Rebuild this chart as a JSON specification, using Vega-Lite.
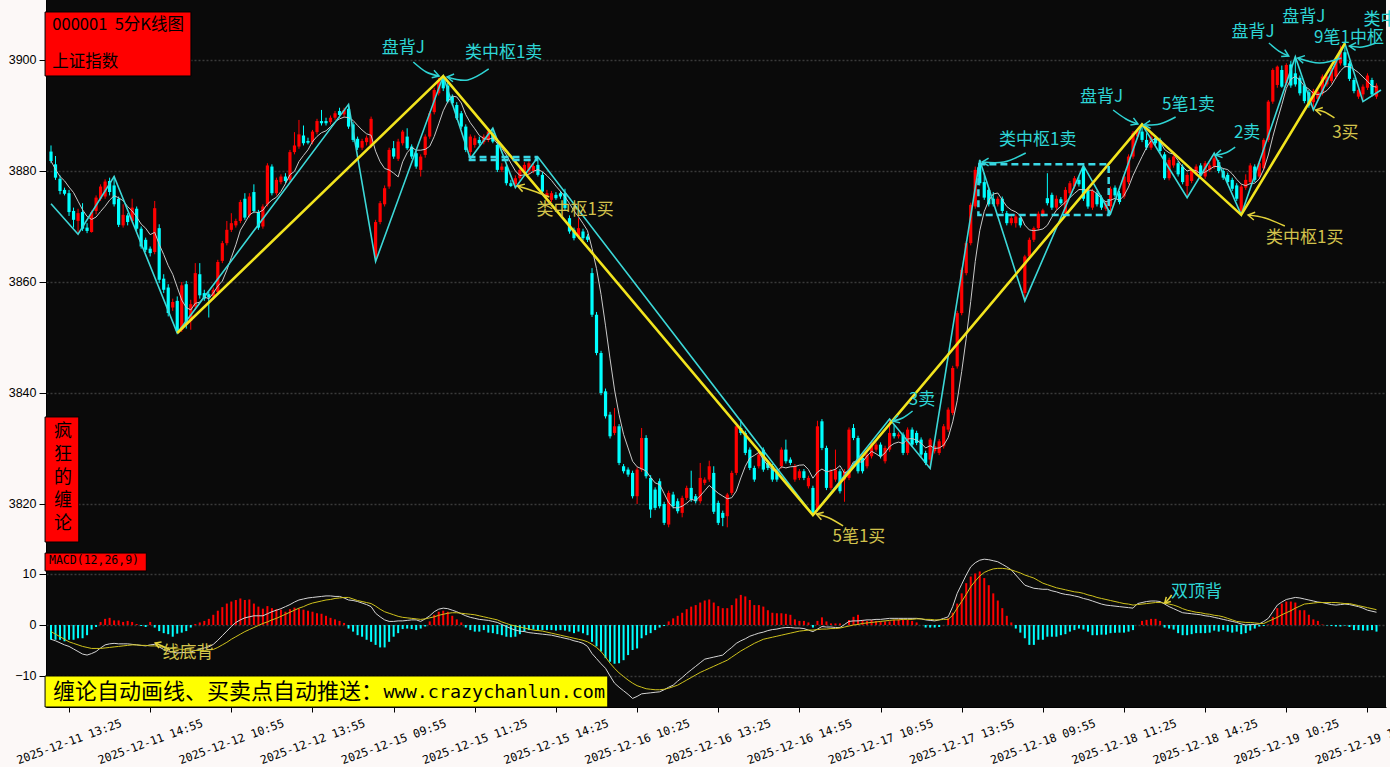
{
"$schema":"https://vega.github.io/schema/vega-lite/v6.json",
"background":"#fcf8f7",
"padding":0,
"spacing":0,
"config":{"view":{"fill":"#0a0a0a","stroke":null},"numberFormat":"d","axis":{"labelColor":"#000","tickColor":"#000","domainColor":"#000","labelFont":"Liberation Sans","labelFontSize":12.5,"grid":false},
"axisY":{"grid":true,"gridColor":"#3a3a3a","gridDash":[2,2],"gridWidth":1.5,"tickSize":7,"labelPadding":3,"minExtent":46,"maxExtent":46},
"font":"Noto Sans CJK SC"},
"datasets":{
"k":[
{"i":0,"o":3883.5,"h":3884.6,"l":3881.4,"c":3881.8,"m":-2.9,"f":-2.8,"e":-1.3},
{"i":1,"o":3881.2,"h":3882.7,"l":3878.4,"c":3878.8,"m":-2.9,"f":-3.1,"e":-1.8},
{"i":2,"o":3878.6,"h":3879.2,"l":3875.8,"c":3876.4,"m":-2.9,"f":-3.5,"e":-2.3},
{"i":3,"o":3876.6,"h":3877.0,"l":3875.6,"c":3875.9,"m":-3.2,"f":-3.9,"e":-2.8},
{"i":4,"o":3876.0,"h":3876.6,"l":3871.9,"c":3872.6,"m":-2.9,"f":-4.2,"e":-3.3},
{"i":5,"o":3872.8,"h":3873.4,"l":3869.8,"c":3871.2,"m":-2.9,"f":-4.7,"e":-3.6},
{"i":6,"o":3871.0,"h":3873.2,"l":3868.6,"c":3872.4,"m":-2.6,"f":-5.2,"e":-3.9},
{"i":7,"o":3872.6,"h":3874.2,"l":3869.2,"c":3869.6,"m":-2.6,"f":-5.7,"e":-4.2},
{"i":8,"o":3869.8,"h":3870.6,"l":3868.8,"c":3869.2,"m":-2.0,"f":-5.9,"e":-4.4},
{"i":9,"o":3869.0,"h":3872.9,"l":3868.9,"c":3872.6,"m":-0.9,"f":-5.6,"e":-4.6},
{"i":10,"o":3872.8,"h":3875.6,"l":3872.2,"c":3875.2,"m":-0.4,"f":-5.2,"e":-4.6},
{"i":11,"o":3875.0,"h":3877.6,"l":3874.6,"c":3877.2,"m":0.6,"f":-4.5,"e":-4.6},
{"i":12,"o":3875.4,"h":3878.5,"l":3875.0,"c":3878.1,"m":1.2,"f":-3.9,"e":-4.5},
{"i":13,"o":3878.2,"h":3878.8,"l":3875.6,"c":3876.2,"m":1.4,"f":-3.7,"e":-4.4},
{"i":14,"o":3877.4,"h":3879.0,"l":3873.6,"c":3874.0,"m":0.9,"f":-3.6,"e":-4.3},
{"i":15,"o":3875.0,"h":3875.4,"l":3869.9,"c":3870.3,"m":0.9,"f":-3.7,"e":-4.2},
{"i":16,"o":3870.2,"h":3874.0,"l":3869.8,"c":3872.1,"m":0.6,"f":-3.7,"e":-4.1},
{"i":17,"o":3872.0,"h":3872.4,"l":3870.2,"c":3870.8,"m":0.8,"f":-3.7,"e":-4.0},
{"i":18,"o":3871.0,"h":3875.0,"l":3870.6,"c":3873.4,"m":0.6,"f":-3.8,"e":-3.9},
{"i":19,"o":3873.2,"h":3873.6,"l":3869.2,"c":3869.6,"m":0.2,"f":-3.9,"e":-3.9},
{"i":20,"o":3869.6,"h":3870.0,"l":3866.0,"c":3866.4,"m":-0.2,"f":-4.0,"e":-4.0},
{"i":21,"o":3867.6,"h":3868.0,"l":3865.4,"c":3865.8,"m":-0.4,"f":-4.1,"e":-4.0},
{"i":22,"o":3866.0,"h":3866.4,"l":3864.6,"c":3865.2,"m":0.6,"f":-3.9,"e":-4.1},
{"i":23,"o":3865.4,"h":3874.6,"l":3865.0,"c":3873.3,"m":-0.5,"f":-3.8,"e":-4.1},
{"i":24,"o":3869.7,"h":3870.4,"l":3859.8,"c":3860.4,"m":-1.2,"f":-4.3,"e":-4.2},
{"i":25,"o":3860.6,"h":3861.4,"l":3858.0,"c":3858.6,"m":-1.6,"f":-4.8,"e":-4.4},
{"i":26,"o":3859.0,"h":3859.6,"l":3853.8,"c":3854.4,"m":-1.8,"f":-5.1,"e":-4.5},
{"i":27,"o":3855.4,"h":3857.0,"l":3854.8,"c":3856.4,"m":-2.3,"f":-5.3,"e":-4.6},
{"i":28,"o":3856.6,"h":3857.4,"l":3850.8,"c":3851.2,"m":-1.7,"f":-5.5,"e":-4.7},
{"i":29,"o":3851.4,"h":3860.0,"l":3851.0,"c":3859.4,"m":-1.5,"f":-5.4,"e":-4.8},
{"i":30,"o":3859.6,"h":3860.2,"l":3851.6,"c":3852.4,"m":-1.2,"f":-5.4,"e":-4.9},
{"i":31,"o":3853.0,"h":3856.8,"l":3851.4,"c":3856.0,"m":-0.5,"f":-5.3,"e":-4.9},
{"i":32,"o":3855.6,"h":3863.4,"l":3855.0,"c":3861.6,"m":0.2,"f":-5.0,"e":-5.0},
{"i":33,"o":3861.4,"h":3863.4,"l":3857.0,"c":3857.6,"m":0.5,"f":-4.8,"e":-5.0},
{"i":34,"o":3858.0,"h":3858.6,"l":3856.6,"c":3857.0,"m":0.8,"f":-4.5,"e":-5.0},
{"i":35,"o":3857.8,"h":3858.2,"l":3853.6,"c":3857.2,"m":1.2,"f":-4.3,"e":-4.9},
{"i":36,"o":3857.4,"h":3859.0,"l":3856.8,"c":3858.6,"m":2.0,"f":-3.8,"e":-4.8},
{"i":37,"o":3858.2,"h":3864.0,"l":3857.8,"c":3863.6,"m":2.8,"f":-3.0,"e":-4.4},
{"i":38,"o":3863.8,"h":3867.4,"l":3863.4,"c":3867.0,"m":3.5,"f":-2.1,"e":-3.9},
{"i":39,"o":3867.0,"h":3871.0,"l":3866.6,"c":3869.4,"m":4.2,"f":-1.2,"e":-3.4},
{"i":40,"o":3869.4,"h":3872.4,"l":3869.0,"c":3870.6,"m":4.6,"f":-0.3,"e":-2.8},
{"i":41,"o":3870.2,"h":3871.4,"l":3869.8,"c":3871.0,"m":4.9,"f":0.5,"e":-2.3},
{"i":42,"o":3871.0,"h":3874.8,"l":3870.6,"c":3874.4,"m":5.2,"f":1.0,"e":-1.8},
{"i":43,"o":3875.0,"h":3876.0,"l":3871.2,"c":3871.6,"m":4.9,"f":1.4,"e":-1.3},
{"i":44,"o":3872.0,"h":3876.0,"l":3871.6,"c":3875.4,"m":5.0,"f":1.6,"e":-0.9},
{"i":45,"o":3876.2,"h":3877.6,"l":3872.4,"c":3872.8,"m":4.2,"f":1.8,"e":-0.5},
{"i":46,"o":3872.6,"h":3873.0,"l":3869.4,"c":3869.8,"m":3.6,"f":1.8,"e":-0.1},
{"i":47,"o":3870.0,"h":3874.0,"l":3869.6,"c":3873.6,"m":3.2,"f":1.8,"e":0.3},
{"i":48,"o":3874.0,"h":3881.4,"l":3873.6,"c":3881.0,"m":3.7,"f":2.2,"e":0.6},
{"i":49,"o":3880.8,"h":3881.2,"l":3875.6,"c":3876.0,"m":3.3,"f":2.6,"e":1.0},
{"i":50,"o":3876.0,"h":3878.8,"l":3875.6,"c":3878.4,"m":3.1,"f":2.9,"e":1.3},
{"i":51,"o":3878.0,"h":3879.4,"l":3877.6,"c":3879.0,"m":3.0,"f":3.2,"e":1.7},
{"i":52,"o":3879.0,"h":3879.6,"l":3877.8,"c":3878.2,"m":2.6,"f":3.6,"e":2.1},
{"i":53,"o":3878.4,"h":3883.8,"l":3878.0,"c":3883.4,"m":3.1,"f":4.0,"e":2.5},
{"i":54,"o":3883.4,"h":3887.0,"l":3883.0,"c":3884.6,"m":3.4,"f":4.5,"e":2.9},
{"i":55,"o":3884.4,"h":3889.2,"l":3884.0,"c":3886.6,"m":3.2,"f":4.9,"e":3.3},
{"i":56,"o":3886.4,"h":3888.2,"l":3884.6,"c":3885.0,"m":3.0,"f":5.1,"e":3.6},
{"i":57,"o":3885.4,"h":3886.0,"l":3884.8,"c":3885.1,"m":2.8,"f":5.3,"e":4.0},
{"i":58,"o":3885.2,"h":3887.4,"l":3884.8,"c":3887.1,"m":2.6,"f":5.4,"e":4.3},
{"i":59,"o":3887.0,"h":3889.4,"l":3886.6,"c":3889.0,"m":2.3,"f":5.5,"e":4.5},
{"i":60,"o":3889.0,"h":3891.0,"l":3888.2,"c":3888.6,"m":2.2,"f":5.6,"e":4.7},
{"i":61,"o":3889.0,"h":3889.6,"l":3888.2,"c":3888.6,"m":1.8,"f":5.7,"e":4.9},
{"i":62,"o":3888.8,"h":3890.0,"l":3888.4,"c":3889.6,"m":1.4,"f":5.7,"e":5.0},
{"i":63,"o":3889.6,"h":3890.8,"l":3889.2,"c":3890.4,"m":1.1,"f":5.6,"e":5.2},
{"i":64,"o":3890.8,"h":3891.4,"l":3889.6,"c":3890.1,"m":0.8,"f":5.6,"e":5.3},
{"i":65,"o":3890.2,"h":3891.4,"l":3889.8,"c":3891.0,"m":0.4,"f":5.3,"e":5.4},
{"i":66,"o":3891.2,"h":3892.0,"l":3887.6,"c":3888.0,"m":-0.7,"f":4.9,"e":5.4},
{"i":67,"o":3888.4,"h":3888.8,"l":3885.2,"c":3885.6,"m":-1.3,"f":4.8,"e":5.1},
{"i":68,"o":3885.8,"h":3886.2,"l":3883.8,"c":3884.2,"m":-2.0,"f":4.6,"e":4.8},
{"i":69,"o":3884.2,"h":3885.8,"l":3883.8,"c":3885.4,"m":-2.3,"f":4.3,"e":4.6},
{"i":70,"o":3885.2,"h":3886.4,"l":3884.6,"c":3886.0,"m":-2.9,"f":4.0,"e":4.4},
{"i":71,"o":3884.6,"h":3889.8,"l":3884.2,"c":3889.4,"m":-3.3,"f":3.6,"e":4.2},
{"i":72,"o":3864.4,"h":3871.2,"l":3863.7,"c":3870.8,"m":-3.9,"f":2.3,"e":3.7},
{"i":73,"o":3870.8,"h":3874.6,"l":3870.4,"c":3874.2,"m":-4.4,"f":1.6,"e":3.1},
{"i":74,"o":3874.0,"h":3877.4,"l":3873.6,"c":3876.9,"m":-4.4,"f":1.0,"e":2.6},
{"i":75,"o":3877.2,"h":3884.2,"l":3876.8,"c":3883.8,"m":-3.3,"f":0.7,"e":2.3},
{"i":76,"o":3884.1,"h":3885.4,"l":3882.2,"c":3882.6,"m":-2.3,"f":0.7,"e":2.0},
{"i":77,"o":3882.2,"h":3885.8,"l":3881.8,"c":3885.3,"m":-1.6,"f":0.8,"e":1.7},
{"i":78,"o":3885.0,"h":3887.4,"l":3884.6,"c":3887.1,"m":-0.8,"f":0.8,"e":1.5},
{"i":79,"o":3886.2,"h":3887.7,"l":3883.8,"c":3884.1,"m":-0.7,"f":0.9,"e":1.4},
{"i":80,"o":3884.4,"h":3884.8,"l":3882.2,"c":3882.6,"m":-0.8,"f":1.0,"e":1.3},
{"i":81,"o":3883.2,"h":3883.6,"l":3880.4,"c":3880.8,"m":-1.0,"f":1.0,"e":1.2},
{"i":82,"o":3880.2,"h":3883.0,"l":3879.0,"c":3882.6,"m":-0.7,"f":0.7,"e":1.1},
{"i":83,"o":3882.9,"h":3886.6,"l":3882.4,"c":3886.2,"m":-0.3,"f":1.2,"e":1.2},
{"i":84,"o":3886.2,"h":3890.8,"l":3885.8,"c":3890.4,"m":0.7,"f":1.8,"e":1.4},
{"i":85,"o":3890.6,"h":3895.0,"l":3890.2,"c":3894.6,"m":2.0,"f":2.6,"e":1.6},
{"i":86,"o":3894.0,"h":3896.8,"l":3893.6,"c":3896.4,"m":2.6,"f":3.1,"e":1.9},
{"i":87,"o":3896.6,"h":3897.1,"l":3894.4,"c":3894.9,"m":2.8,"f":3.3,"e":2.1},
{"i":88,"o":3895.4,"h":3896.0,"l":3892.2,"c":3892.5,"m":2.6,"f":3.2,"e":2.3},
{"i":89,"o":3893.4,"h":3893.8,"l":3891.8,"c":3892.2,"m":1.8,"f":2.9,"e":2.4},
{"i":90,"o":3891.9,"h":3892.4,"l":3889.2,"c":3889.5,"m":1.1,"f":2.6,"e":2.4},
{"i":91,"o":3890.4,"h":3890.8,"l":3887.6,"c":3888.0,"m":0.5,"f":2.2,"e":2.3},
{"i":92,"o":3888.0,"h":3888.4,"l":3883.4,"c":3883.8,"m":-0.5,"f":1.8,"e":2.2},
{"i":93,"o":3883.4,"h":3886.6,"l":3882.2,"c":3886.2,"m":-1.0,"f":1.5,"e":2.1},
{"i":94,"o":3884.7,"h":3886.4,"l":3884.2,"c":3885.9,"m":-1.3,"f":1.3,"e":2.0},
{"i":95,"o":3885.6,"h":3886.2,"l":3884.6,"c":3885.0,"m":-1.3,"f":1.1,"e":1.8},
{"i":96,"o":3885.2,"h":3886.6,"l":3884.8,"c":3886.2,"m":-1.0,"f":1.0,"e":1.6},
{"i":97,"o":3885.6,"h":3887.5,"l":3885.2,"c":3887.1,"m":-1.5,"f":0.9,"e":1.4},
{"i":98,"o":3886.8,"h":3887.7,"l":3885.0,"c":3885.3,"m":-1.6,"f":0.7,"e":1.2},
{"i":99,"o":3884.7,"h":3885.2,"l":3879.8,"c":3880.2,"m":-1.8,"f":0.5,"e":1.0},
{"i":100,"o":3880.2,"h":3881.4,"l":3879.8,"c":3880.8,"m":-2.0,"f":0.1,"e":0.6},
{"i":101,"o":3880.8,"h":3881.2,"l":3877.4,"c":3877.8,"m":-2.3,"f":-0.3,"e":0.3},
{"i":102,"o":3877.8,"h":3878.4,"l":3877.1,"c":3877.3,"m":-2.4,"f":-0.7,"e":0.0},
{"i":103,"o":3877.6,"h":3879.2,"l":3877.0,"c":3878.7,"m":-2.3,"f":-1.0,"e":-0.2},
{"i":104,"o":3878.7,"h":3880.6,"l":3878.2,"c":3880.2,"m":-1.8,"f":-1.2,"e":-0.4},
{"i":105,"o":3879.6,"h":3881.6,"l":3879.2,"c":3881.1,"m":-1.3,"f":-1.3,"e":-0.6},
{"i":106,"o":3879.9,"h":3881.8,"l":3879.4,"c":3881.4,"m":-1.0,"f":-1.5,"e":-0.8},
{"i":107,"o":3880.0,"h":3881.4,"l":3879.6,"c":3880.9,"m":-0.9,"f":-1.6,"e":-1.0},
{"i":108,"o":3881.1,"h":3882.5,"l":3879.0,"c":3879.3,"m":-1.0,"f":-1.7,"e":-1.1},
{"i":109,"o":3879.3,"h":3879.8,"l":3875.9,"c":3876.3,"m":-1.0,"f":-1.8,"e":-1.2},
{"i":110,"o":3875.4,"h":3876.6,"l":3875.0,"c":3876.0,"m":-1.0,"f":-1.9,"e":-1.4},
{"i":111,"o":3874.8,"h":3876.4,"l":3874.4,"c":3876.0,"m":-1.0,"f":-2.0,"e":-1.6},
{"i":112,"o":3875.7,"h":3876.2,"l":3874.8,"c":3875.1,"m":-1.1,"f":-2.2,"e":-1.8},
{"i":113,"o":3876.0,"h":3876.4,"l":3875.0,"c":3875.4,"m":-1.0,"f":-2.4,"e":-2.0},
{"i":114,"o":3876.0,"h":3876.8,"l":3872.9,"c":3873.3,"m":-1.1,"f":-2.6,"e":-2.2},
{"i":115,"o":3871.5,"h":3872.0,"l":3868.7,"c":3869.1,"m":-1.3,"f":-2.8,"e":-2.4},
{"i":116,"o":3869.4,"h":3869.8,"l":3867.5,"c":3867.9,"m":-1.6,"f":-3.1,"e":-2.6},
{"i":117,"o":3868.2,"h":3871.5,"l":3867.8,"c":3869.7,"m":-1.3,"f":-3.3,"e":-2.8},
{"i":118,"o":3869.1,"h":3869.6,"l":3867.5,"c":3867.9,"m":-1.6,"f":-3.6,"e":-3.0},
{"i":119,"o":3868.2,"h":3868.6,"l":3867.2,"c":3867.6,"m":-2.0,"f":-4.2,"e":-3.3},
{"i":120,"o":3861.6,"h":3862.5,"l":3853.7,"c":3854.1,"m":-3.3,"f":-5.6,"e":-3.8},
{"i":121,"o":3854.1,"h":3854.6,"l":3846.8,"c":3847.2,"m":-4.2,"f":-6.6,"e":-4.4},
{"i":122,"o":3847.2,"h":3847.6,"l":3839.6,"c":3840.0,"m":-5.2,"f":-7.6,"e":-5.2},
{"i":123,"o":3840.3,"h":3840.8,"l":3835.4,"c":3835.8,"m":-6.5,"f":-8.5,"e":-6.3},
{"i":124,"o":3836.1,"h":3836.6,"l":3831.8,"c":3832.2,"m":-7.2,"f":-10.0,"e":-7.5},
{"i":125,"o":3832.8,"h":3837.3,"l":3832.4,"c":3834.0,"m":-7.6,"f":-11.4,"e":-8.5},
{"i":126,"o":3834.0,"h":3834.4,"l":3827.0,"c":3827.4,"m":-7.5,"f":-12.2,"e":-9.4},
{"i":127,"o":3826.8,"h":3827.2,"l":3825.5,"c":3825.9,"m":-6.9,"f":-12.9,"e":-10.1},
{"i":128,"o":3826.2,"h":3826.6,"l":3824.9,"c":3825.3,"m":-5.9,"f":-13.6,"e":-10.8},
{"i":129,"o":3825.6,"h":3826.0,"l":3821.0,"c":3821.4,"m":-4.9,"f":-14.4,"e":-11.4},
{"i":130,"o":3821.4,"h":3826.6,"l":3820.0,"c":3826.2,"m":-4.6,"f":-14.0,"e":-11.9},
{"i":131,"o":3826.2,"h":3833.7,"l":3825.8,"c":3831.9,"m":-2.6,"f":-13.5,"e":-12.2},
{"i":132,"o":3831.9,"h":3832.4,"l":3824.6,"c":3825.0,"m":-2.0,"f":-13.4,"e":-12.5},
{"i":133,"o":3824.7,"h":3825.2,"l":3817.5,"c":3819.0,"m":-1.6,"f":-13.3,"e":-12.6},
{"i":134,"o":3822.6,"h":3823.0,"l":3818.9,"c":3819.3,"m":-1.0,"f":-13.2,"e":-12.7},
{"i":135,"o":3824.1,"h":3824.6,"l":3819.2,"c":3819.6,"m":-0.5,"f":-13.1,"e":-12.7},
{"i":136,"o":3820.0,"h":3820.4,"l":3816.2,"c":3816.6,"m":-0.2,"f":-12.7,"e":-12.6},
{"i":137,"o":3816.3,"h":3822.4,"l":3815.8,"c":3822.0,"m":0.7,"f":-12.2,"e":-12.4},
{"i":138,"o":3821.7,"h":3822.2,"l":3819.2,"c":3819.6,"m":1.3,"f":-11.8,"e":-12.1},
{"i":139,"o":3820.5,"h":3821.0,"l":3818.3,"c":3818.7,"m":1.8,"f":-11.0,"e":-11.8},
{"i":140,"o":3818.4,"h":3821.5,"l":3817.6,"c":3821.1,"m":2.4,"f":-10.3,"e":-11.3},
{"i":141,"o":3821.1,"h":3823.3,"l":3820.7,"c":3822.9,"m":3.1,"f":-9.5,"e":-10.8},
{"i":142,"o":3822.9,"h":3826.0,"l":3820.4,"c":3820.8,"m":3.6,"f":-8.8,"e":-10.3},
{"i":143,"o":3821.4,"h":3821.8,"l":3820.1,"c":3820.5,"m":3.9,"f":-8.1,"e":-9.8},
{"i":144,"o":3820.5,"h":3827.4,"l":3820.1,"c":3824.7,"m":4.4,"f":-7.4,"e":-9.3},
{"i":145,"o":3823.8,"h":3824.8,"l":3823.4,"c":3824.4,"m":4.8,"f":-6.7,"e":-8.9},
{"i":146,"o":3824.4,"h":3827.8,"l":3824.0,"c":3826.8,"m":5.0,"f":-6.5,"e":-8.5},
{"i":147,"o":3825.6,"h":3826.8,"l":3818.2,"c":3818.6,"m":4.4,"f":-6.3,"e":-8.1},
{"i":148,"o":3820.2,"h":3820.6,"l":3816.2,"c":3816.6,"m":3.7,"f":-6.1,"e":-7.7},
{"i":149,"o":3818.4,"h":3818.8,"l":3816.0,"c":3817.5,"m":3.3,"f":-5.9,"e":-7.3},
{"i":150,"o":3817.8,"h":3822.0,"l":3815.8,"c":3821.7,"m":3.3,"f":-5.1,"e":-6.9},
{"i":151,"o":3822.0,"h":3826.0,"l":3821.6,"c":3825.6,"m":3.9,"f":-4.4,"e":-6.3},
{"i":152,"o":3825.6,"h":3834.6,"l":3825.2,"c":3834.0,"m":5.2,"f":-3.6,"e":-5.7},
{"i":153,"o":3833.7,"h":3835.2,"l":3832.4,"c":3832.8,"m":5.9,"f":-3.1,"e":-5.1},
{"i":154,"o":3832.8,"h":3833.2,"l":3828.8,"c":3829.2,"m":5.6,"f":-2.7,"e":-4.6},
{"i":155,"o":3829.8,"h":3830.2,"l":3826.1,"c":3826.5,"m":4.9,"f":-2.2,"e":-4.1},
{"i":156,"o":3826.5,"h":3826.9,"l":3824.0,"c":3824.4,"m":3.9,"f":-1.9,"e":-3.6},
{"i":157,"o":3826.8,"h":3829.4,"l":3826.4,"c":3828.9,"m":3.9,"f":-1.6,"e":-3.2},
{"i":158,"o":3829.8,"h":3830.2,"l":3825.8,"c":3826.2,"m":3.6,"f":-1.4,"e":-2.8},
{"i":159,"o":3827.4,"h":3827.8,"l":3826.1,"c":3826.5,"m":2.9,"f":-1.1,"e":-2.6},
{"i":160,"o":3826.8,"h":3827.2,"l":3824.0,"c":3824.4,"m":2.4,"f":-0.9,"e":-2.4},
{"i":161,"o":3825.9,"h":3826.3,"l":3824.0,"c":3824.4,"m":2.3,"f":-0.8,"e":-2.2},
{"i":162,"o":3826.8,"h":3830.2,"l":3826.4,"c":3829.8,"m":2.3,"f":-0.6,"e":-2.0},
{"i":163,"o":3829.8,"h":3831.6,"l":3827.3,"c":3827.7,"m":2.2,"f":-0.5,"e":-1.8},
{"i":164,"o":3828.0,"h":3828.4,"l":3827.0,"c":3827.4,"m":2.0,"f":-0.5,"e":-1.6},
{"i":165,"o":3824.4,"h":3827.2,"l":3824.0,"c":3826.8,"m":1.1,"f":-0.6,"e":-1.4},
{"i":166,"o":3824.7,"h":3826.3,"l":3824.3,"c":3825.9,"m":0.8,"f":-0.6,"e":-1.2},
{"i":167,"o":3825.9,"h":3826.3,"l":3824.3,"c":3824.7,"m":0.8,"f":-0.7,"e":-1.1},
{"i":168,"o":3823.2,"h":3825.1,"l":3822.8,"c":3824.7,"m":0.5,"f":-1.0,"e":-1.0},
{"i":169,"o":3822.9,"h":3823.3,"l":3818.0,"c":3818.4,"m":-0.5,"f":-1.3,"e":-1.0},
{"i":170,"o":3819.0,"h":3835.0,"l":3818.6,"c":3834.0,"m":0.8,"f":-0.8,"e":-0.9},
{"i":171,"o":3834.9,"h":3835.3,"l":3829.7,"c":3830.1,"m":1.5,"f":-0.3,"e":-0.8},
{"i":172,"o":3830.1,"h":3830.5,"l":3822.5,"c":3822.9,"m":0.7,"f":-0.4,"e":-0.8},
{"i":173,"o":3822.9,"h":3826.3,"l":3822.5,"c":3825.9,"m":0.3,"f":-0.4,"e":-0.7},
{"i":174,"o":3824.4,"h":3829.8,"l":3824.0,"c":3826.2,"m":0.3,"f":-0.5,"e":-0.7},
{"i":175,"o":3825.9,"h":3826.3,"l":3821.9,"c":3822.3,"m":0.3,"f":-0.5,"e":-0.6},
{"i":176,"o":3824.4,"h":3826.3,"l":3820.4,"c":3825.9,"m":0.0,"f":0.1,"e":-0.4},
{"i":177,"o":3824.7,"h":3833.8,"l":3824.3,"c":3833.4,"m":1.0,"f":0.7,"e":-0.2},
{"i":178,"o":3833.7,"h":3834.4,"l":3831.5,"c":3831.9,"m":1.6,"f":0.8,"e":0.0},
{"i":179,"o":3831.9,"h":3832.3,"l":3825.5,"c":3825.9,"m":2.0,"f":0.8,"e":0.1},
{"i":180,"o":3828.3,"h":3828.7,"l":3825.5,"c":3825.9,"m":1.0,"f":0.9,"e":0.3},
{"i":181,"o":3826.8,"h":3829.3,"l":3826.4,"c":3828.9,"m":0.8,"f":1.0,"e":0.4},
{"i":182,"o":3828.6,"h":3831.4,"l":3828.2,"c":3831.0,"m":1.0,"f":1.0,"e":0.5},
{"i":183,"o":3829.8,"h":3831.1,"l":3829.4,"c":3830.7,"m":0.8,"f":1.1,"e":0.6},
{"i":184,"o":3830.7,"h":3831.1,"l":3828.2,"c":3828.6,"m":0.7,"f":1.1,"e":0.7},
{"i":185,"o":3827.7,"h":3830.5,"l":3827.3,"c":3830.1,"m":0.7,"f":1.2,"e":0.8},
{"i":186,"o":3829.8,"h":3835.3,"l":3829.4,"c":3832.8,"m":0.7,"f":1.3,"e":0.9},
{"i":187,"o":3832.8,"h":3834.3,"l":3831.8,"c":3832.2,"m":1.0,"f":1.3,"e":1.0},
{"i":188,"o":3832.2,"h":3832.9,"l":3831.8,"c":3832.5,"m":1.1,"f":1.3,"e":1.0},
{"i":189,"o":3832.5,"h":3832.9,"l":3828.8,"c":3829.2,"m":1.0,"f":1.3,"e":1.1},
{"i":190,"o":3829.2,"h":3833.8,"l":3828.8,"c":3833.4,"m":1.0,"f":1.3,"e":1.1},
{"i":191,"o":3833.4,"h":3833.8,"l":3830.3,"c":3830.7,"m":0.8,"f":1.3,"e":1.1},
{"i":192,"o":3832.8,"h":3833.2,"l":3830.6,"c":3831.0,"m":0.5,"f":1.3,"e":1.2},
{"i":193,"o":3831.6,"h":3832.0,"l":3828.5,"c":3828.9,"m":0.0,"f":1.2,"e":1.2},
{"i":194,"o":3829.2,"h":3829.6,"l":3827.0,"c":3827.4,"m":-0.5,"f":1.0,"e":1.1},
{"i":195,"o":3828.0,"h":3831.9,"l":3826.4,"c":3831.6,"m":-0.5,"f":0.9,"e":1.1},
{"i":196,"o":3829.5,"h":3830.8,"l":3829.1,"c":3830.4,"m":-0.5,"f":0.8,"e":1.0},
{"i":197,"o":3829.2,"h":3831.7,"l":3828.8,"c":3831.3,"m":-0.4,"f":1.0,"e":1.0},
{"i":198,"o":3830.4,"h":3834.4,"l":3830.0,"c":3834.0,"m":0.0,"f":1.3,"e":1.1},
{"i":199,"o":3833.4,"h":3837.4,"l":3833.0,"c":3837.0,"m":1.3,"f":1.6,"e":1.1},
{"i":200,"o":3836.4,"h":3844.9,"l":3836.0,"c":3844.5,"m":2.4,"f":3.6,"e":1.9},
{"i":201,"o":3844.8,"h":3854.8,"l":3844.4,"c":3854.4,"m":4.2,"f":6.2,"e":3.3},
{"i":202,"o":3854.4,"h":3862.6,"l":3854.0,"c":3862.2,"m":6.2,"f":8.0,"e":4.6},
{"i":203,"o":3861.6,"h":3867.4,"l":3861.2,"c":3867.0,"m":8.2,"f":9.8,"e":6.0},
{"i":204,"o":3867.0,"h":3874.3,"l":3866.6,"c":3873.9,"m":9.5,"f":11.4,"e":7.5},
{"i":205,"o":3873.6,"h":3880.8,"l":3873.2,"c":3880.2,"m":10.1,"f":12.2,"e":8.6},
{"i":206,"o":3881.4,"h":3882.0,"l":3877.4,"c":3877.8,"m":10.5,"f":12.7,"e":9.6},
{"i":207,"o":3878.0,"h":3879.6,"l":3874.8,"c":3875.2,"m":9.2,"f":12.9,"e":10.3},
{"i":208,"o":3876.6,"h":3877.0,"l":3873.6,"c":3874.0,"m":7.8,"f":12.8,"e":10.7},
{"i":209,"o":3875.0,"h":3876.2,"l":3873.6,"c":3874.0,"m":6.2,"f":12.6,"e":11.0},
{"i":210,"o":3874.0,"h":3875.4,"l":3873.6,"c":3875.0,"m":4.8,"f":12.4,"e":11.1},
{"i":211,"o":3875.0,"h":3875.4,"l":3872.4,"c":3872.8,"m":3.3,"f":11.9,"e":11.1},
{"i":212,"o":3872.4,"h":3872.8,"l":3870.2,"c":3870.6,"m":1.8,"f":11.4,"e":11.0},
{"i":213,"o":3870.6,"h":3872.0,"l":3870.2,"c":3871.5,"m":0.5,"f":10.8,"e":10.8},
{"i":214,"o":3870.6,"h":3872.2,"l":3869.8,"c":3871.8,"m":-0.7,"f":9.8,"e":10.5},
{"i":215,"o":3871.6,"h":3872.0,"l":3869.8,"c":3870.2,"m":-1.5,"f":8.8,"e":10.2},
{"i":216,"o":3858.0,"h":3864.9,"l":3856.6,"c":3864.6,"m":-2.6,"f":7.8,"e":9.8},
{"i":217,"o":3864.6,"h":3868.0,"l":3864.2,"c":3867.6,"m":-3.9,"f":7.5,"e":9.5},
{"i":218,"o":3867.6,"h":3870.0,"l":3867.2,"c":3869.7,"m":-3.9,"f":7.2,"e":9.2},
{"i":219,"o":3869.7,"h":3872.7,"l":3869.3,"c":3872.3,"m":-2.9,"f":7.1,"e":8.7},
{"i":220,"o":3872.1,"h":3873.2,"l":3871.7,"c":3872.9,"m":-2.9,"f":7.0,"e":8.2},
{"i":221,"o":3875.1,"h":3879.6,"l":3873.8,"c":3874.2,"m":-2.3,"f":7.0,"e":7.9},
{"i":222,"o":3875.7,"h":3876.1,"l":3873.0,"c":3873.4,"m":-2.3,"f":6.7,"e":7.6},
{"i":223,"o":3873.4,"h":3875.6,"l":3873.0,"c":3875.0,"m":-2.3,"f":6.5,"e":7.3},
{"i":224,"o":3874.9,"h":3875.3,"l":3873.9,"c":3874.2,"m":-2.0,"f":6.2,"e":7.1},
{"i":225,"o":3872.4,"h":3877.1,"l":3872.0,"c":3876.6,"m":-1.8,"f":6.0,"e":6.9},
{"i":226,"o":3876.0,"h":3878.2,"l":3875.6,"c":3877.8,"m":-1.3,"f":5.9,"e":6.7},
{"i":227,"o":3877.2,"h":3879.1,"l":3876.8,"c":3878.7,"m":-1.0,"f":5.7,"e":6.5},
{"i":228,"o":3878.4,"h":3879.0,"l":3877.2,"c":3877.6,"m":-0.7,"f":5.5,"e":6.4},
{"i":229,"o":3880.6,"h":3881.0,"l":3874.6,"c":3875.0,"m":-0.9,"f":5.2,"e":6.2},
{"i":230,"o":3876.4,"h":3876.8,"l":3873.2,"c":3873.6,"m":-1.3,"f":5.0,"e":5.9},
{"i":231,"o":3873.4,"h":3876.8,"l":3873.0,"c":3876.4,"m":-2.0,"f":4.7,"e":5.7},
{"i":232,"o":3876.0,"h":3876.4,"l":3873.6,"c":3874.0,"m":-2.0,"f":4.4,"e":5.4},
{"i":233,"o":3875.2,"h":3875.6,"l":3873.0,"c":3873.4,"m":-1.9,"f":4.1,"e":5.2},
{"i":234,"o":3873.2,"h":3874.6,"l":3872.8,"c":3874.2,"m":-1.9,"f":3.9,"e":5.0},
{"i":235,"o":3873.6,"h":3877.2,"l":3872.3,"c":3876.8,"m":-1.6,"f":3.8,"e":4.8},
{"i":236,"o":3877.0,"h":3877.4,"l":3875.2,"c":3875.6,"m":-1.5,"f":3.7,"e":4.6},
{"i":237,"o":3876.0,"h":3876.4,"l":3874.0,"c":3874.4,"m":-1.5,"f":3.6,"e":4.4},
{"i":238,"o":3875.4,"h":3879.4,"l":3875.0,"c":3879.0,"m":-1.5,"f":3.5,"e":4.2},
{"i":239,"o":3878.0,"h":3883.0,"l":3877.6,"c":3882.6,"m":-1.3,"f":3.4,"e":4.1},
{"i":240,"o":3882.6,"h":3887.2,"l":3882.2,"c":3886.8,"m":-1.0,"f":3.3,"e":3.9},
{"i":241,"o":3886.2,"h":3887.6,"l":3885.8,"c":3887.2,"m":0.0,"f":4.2,"e":4.0},
{"i":242,"o":3887.1,"h":3888.4,"l":3885.2,"c":3885.6,"m":0.8,"f":4.4,"e":4.1},
{"i":243,"o":3885.6,"h":3886.8,"l":3883.8,"c":3884.2,"m":1.0,"f":4.6,"e":4.2},
{"i":244,"o":3884.2,"h":3886.8,"l":3883.8,"c":3886.2,"m":1.2,"f":4.7,"e":4.3},
{"i":245,"o":3886.0,"h":3886.4,"l":3884.6,"c":3885.0,"m":1.2,"f":4.7,"e":4.4},
{"i":246,"o":3885.6,"h":3886.0,"l":3883.2,"c":3883.6,"m":0.8,"f":4.6,"e":4.4},
{"i":247,"o":3883.0,"h":3883.4,"l":3878.4,"c":3878.7,"m":-0.5,"f":4.1,"e":4.3},
{"i":248,"o":3878.7,"h":3882.4,"l":3878.3,"c":3882.0,"m":-0.7,"f":3.6,"e":4.1},
{"i":249,"o":3881.0,"h":3883.2,"l":3880.6,"c":3882.6,"m":-0.9,"f":3.2,"e":3.9},
{"i":250,"o":3881.4,"h":3881.8,"l":3879.0,"c":3879.4,"m":-1.6,"f":2.8,"e":3.6},
{"i":251,"o":3880.8,"h":3881.2,"l":3877.6,"c":3878.0,"m":-2.0,"f":2.4,"e":3.2},
{"i":252,"o":3877.3,"h":3879.7,"l":3875.2,"c":3879.3,"m":-2.0,"f":2.3,"e":2.9},
{"i":253,"o":3878.2,"h":3880.6,"l":3877.8,"c":3880.2,"m":-1.8,"f":2.2,"e":2.7},
{"i":254,"o":3879.6,"h":3881.2,"l":3879.2,"c":3880.8,"m":-1.6,"f":2.1,"e":2.5},
{"i":255,"o":3881.0,"h":3881.4,"l":3878.8,"c":3879.2,"m":-1.6,"f":2.0,"e":2.4},
{"i":256,"o":3879.0,"h":3881.8,"l":3878.6,"c":3881.4,"m":-1.6,"f":1.8,"e":2.2},
{"i":257,"o":3880.2,"h":3881.4,"l":3879.8,"c":3881.0,"m":-1.5,"f":1.7,"e":2.1},
{"i":258,"o":3880.8,"h":3883.2,"l":3880.4,"c":3882.3,"m":-1.1,"f":1.5,"e":1.9},
{"i":259,"o":3881.6,"h":3882.0,"l":3879.6,"c":3880.0,"m":-1.3,"f":1.3,"e":1.8},
{"i":260,"o":3880.0,"h":3880.4,"l":3878.4,"c":3878.8,"m":-1.0,"f":1.1,"e":1.6},
{"i":261,"o":3879.3,"h":3879.7,"l":3877.6,"c":3878.0,"m":-1.3,"f":0.9,"e":1.3},
{"i":262,"o":3878.4,"h":3878.8,"l":3876.4,"c":3876.8,"m":-1.5,"f":0.7,"e":1.0},
{"i":263,"o":3877.4,"h":3877.8,"l":3874.6,"c":3875.0,"m":-1.3,"f":0.5,"e":0.7},
{"i":264,"o":3872.7,"h":3877.6,"l":3872.1,"c":3877.2,"m":-1.8,"f":0.2,"e":0.6},
{"i":265,"o":3877.0,"h":3879.4,"l":3876.6,"c":3878.4,"m":-1.6,"f":0.0,"e":0.5},
{"i":266,"o":3878.0,"h":3881.4,"l":3877.6,"c":3881.0,"m":-1.1,"f":0.1,"e":0.5},
{"i":267,"o":3880.8,"h":3881.2,"l":3878.0,"c":3878.4,"m":-0.7,"f":0.1,"e":0.4},
{"i":268,"o":3879.0,"h":3881.8,"l":3878.6,"c":3881.4,"m":-0.3,"f":0.2,"e":0.3},
{"i":269,"o":3880.5,"h":3885.9,"l":3880.1,"c":3885.6,"m":-0.2,"f":0.7,"e":0.3},
{"i":270,"o":3885.6,"h":3892.8,"l":3885.2,"c":3892.5,"m":0.1,"f":1.3,"e":0.7},
{"i":271,"o":3892.5,"h":3898.5,"l":3892.1,"c":3898.2,"m":1.6,"f":2.6,"e":1.1},
{"i":272,"o":3895.5,"h":3899.0,"l":3895.0,"c":3898.8,"m":3.3,"f":3.9,"e":1.5},
{"i":273,"o":3898.2,"h":3899.0,"l":3895.0,"c":3895.2,"m":4.2,"f":4.5,"e":2.0},
{"i":274,"o":3895.8,"h":3899.4,"l":3895.4,"c":3899.1,"m":4.6,"f":5.0,"e":2.4},
{"i":275,"o":3899.2,"h":3899.8,"l":3895.0,"c":3895.4,"m":4.6,"f":5.2,"e":2.8},
{"i":276,"o":3897.6,"h":3900.6,"l":3895.2,"c":3895.6,"m":4.4,"f":5.4,"e":3.3},
{"i":277,"o":3896.8,"h":3897.2,"l":3893.6,"c":3894.0,"m":2.9,"f":5.3,"e":3.7},
{"i":278,"o":3895.4,"h":3895.8,"l":3892.2,"c":3892.6,"m":2.9,"f":5.1,"e":4.1},
{"i":279,"o":3894.2,"h":3894.6,"l":3891.4,"c":3891.8,"m":2.0,"f":4.9,"e":4.2},
{"i":280,"o":3892.4,"h":3894.8,"l":3891.0,"c":3894.4,"m":1.1,"f":4.7,"e":4.3},
{"i":281,"o":3893.0,"h":3894.6,"l":3892.6,"c":3894.2,"m":0.8,"f":4.5,"e":4.4},
{"i":282,"o":3894.0,"h":3897.4,"l":3893.6,"c":3897.0,"m":0.1,"f":4.4,"e":4.4},
{"i":283,"o":3895.6,"h":3897.4,"l":3895.2,"c":3897.0,"m":-0.1,"f":4.2,"e":4.4},
{"i":284,"o":3896.2,"h":3898.6,"l":3895.8,"c":3898.2,"m":-0.2,"f":4.0,"e":4.4},
{"i":285,"o":3897.0,"h":3900.2,"l":3896.6,"c":3900.0,"m":-0.3,"f":3.9,"e":4.4},
{"i":286,"o":3899.4,"h":3902.6,"l":3899.0,"c":3901.8,"m":-0.3,"f":4.0,"e":4.3},
{"i":287,"o":3901.4,"h":3903.0,"l":3898.6,"c":3899.0,"m":-0.1,"f":4.1,"e":4.2},
{"i":288,"o":3899.4,"h":3899.8,"l":3896.2,"c":3896.6,"m":-0.4,"f":4.0,"e":4.2},
{"i":289,"o":3896.4,"h":3896.8,"l":3894.0,"c":3894.4,"m":-1.0,"f":3.8,"e":4.0},
{"i":290,"o":3893.4,"h":3895.2,"l":3893.0,"c":3894.6,"m":-1.0,"f":3.6,"e":3.8},
{"i":291,"o":3893.8,"h":3895.6,"l":3892.5,"c":3895.2,"m":-1.1,"f":3.3,"e":3.6},
{"i":292,"o":3895.0,"h":3897.6,"l":3894.6,"c":3897.2,"m":-1.1,"f":2.9,"e":3.4},
{"i":293,"o":3896.4,"h":3896.8,"l":3893.4,"c":3893.8,"m":-1.0,"f":2.7,"e":3.2},
{"i":294,"o":3893.4,"h":3895.8,"l":3893.0,"c":3895.4,"m":-1.3,"f":2.5,"e":3.0}
],
"bi":[{"i":0,"p":3874.1},{"i":6,"p":3868.6},{"i":14,"p":3879.0},{"i":28,"p":3850.8},{"i":66,"p":3892.0},{"i":72,"p":3863.7},{"i":87,"p":3897.1},{"i":93,"p":3882.2},{"i":98,"p":3887.7},{"i":103,"p":3877.0},{"i":108,"p":3882.5},{"i":169,"p":3818.0},{"i":186,"p":3835.3},{"i":195,"p":3826.4},{"i":206,"p":3882.0},{"i":216,"p":3856.6},{"i":229,"p":3881.0},{"i":235,"p":3872.3},{"i":242,"p":3888.4},{"i":252,"p":3875.2},{"i":258,"p":3883.2},{"i":264,"p":3872.1},{"i":276,"p":3900.6},{"i":280,"p":3891.0},{"i":287,"p":3903.0},{"i":291,"p":3892.5},{"i":295,"p":3894.6}],
"seg":[{"i":28,"p":3850.8},{"i":87,"p":3897.1},{"i":169,"p":3818.0},{"i":242,"p":3888.4},{"i":264,"p":3872.1},{"i":287,"p":3903.0}],
"zs":[{"i":92.6,"i2":107.7,"p":3881.98,"p2":3882.52},{"i":205.7,"i2":234.6,"p":3872.07,"p2":3881.21}],
"arrC":[
{"id":1,"k":0,"i":80.36,"p":3899.64},{"id":1,"k":1,"i":83.22,"p":3897.84},{"id":1,"k":2,"i":86.08,"p":3897.12},
{"id":2,"k":0,"i":97.09,"p":3898.38},{"id":2,"k":1,"i":92.47,"p":3896.4},{"id":2,"k":2,"i":87.85,"p":3896.94},
{"id":5,"k":0,"i":191.1,"p":3836.76},{"id":5,"k":1,"i":188.9,"p":3835.5},{"id":5,"k":2,"i":186.7,"p":3834.95},
{"id":6,"k":0,"i":216.2,"p":3883.24},{"id":6,"k":1,"i":211.36,"p":3881.62},{"id":6,"k":2,"i":206.52,"p":3881.62},
{"id":7,"k":0,"i":235.58,"p":3890.99},{"id":7,"k":1,"i":238.44,"p":3889.37},{"id":7,"k":2,"i":241.08,"p":3888.47},
{"id":8,"k":0,"i":249.45,"p":3889.73},{"id":8,"k":1,"i":245.93,"p":3888.47},{"id":8,"k":2,"i":242.4,"p":3888.29},
{"id":9,"k":0,"i":262.66,"p":3884.32},{"id":9,"k":1,"i":260.46,"p":3883.24},{"id":9,"k":2,"i":258.26,"p":3882.88},
{"id":11,"k":0,"i":270.14,"p":3903.06},{"id":11,"k":1,"i":272.34,"p":3901.62},{"id":11,"k":2,"i":274.54,"p":3900.72},
{"id":12,"k":0,"i":286.22,"p":3900.36},{"id":12,"k":1,"i":281.37,"p":3899.46},{"id":12,"k":2,"i":276.53,"p":3900.36},
{"id":13,"k":0,"i":293.92,"p":3903.06},{"id":13,"k":1,"i":290.84,"p":3902.34},{"id":13,"k":2,"i":287.98,"p":3902.52}
],
"headC":[{"i":86.08,"p":3897.12,"a":17},{"i":87.85,"p":3896.94,"a":188},{"i":186.7,"p":3834.95,"a":163},{"i":206.52,"p":3881.62,"a":180},{"i":241.08,"p":3888.47,"a":23},{"i":242.4,"p":3888.29,"a":176},{"i":258.26,"p":3882.88,"a":169},{"i":274.54,"p":3900.72,"a":27},{"i":276.53,"p":3900.36,"a":193},{"i":287.98,"p":3902.52,"a":184}],
"arrY":[
{"id":3,"k":0,"i":110.52,"p":3875.32},{"id":3,"k":1,"i":107.0,"p":3876.4},{"id":3,"k":2,"i":103.48,"p":3877.3},
{"id":4,"k":0,"i":175.69,"p":3816.04},{"id":4,"k":1,"i":172.6,"p":3817.48},{"id":4,"k":2,"i":169.75,"p":3818.2},
{"id":10,"k":0,"i":273.67,"p":3870.09},{"id":10,"k":1,"i":269.27,"p":3871.53},{"id":10,"k":2,"i":265.52,"p":3872.07},
{"id":14,"k":0,"i":284.68,"p":3889.55},{"id":14,"k":1,"i":282.48,"p":3890.63},{"id":14,"k":2,"i":280.5,"p":3890.99}
],
"headY":[{"i":103.48,"p":3877.3,"a":197},{"i":169.75,"p":3818.2,"a":197},{"i":265.52,"p":3872.07,"a":190},{"i":280.5,"p":3890.99,"a":192}],
"arrYm":[
{"id":15,"k":0,"i":26.42,"v":-4.9},{"id":15,"k":1,"i":24.66,"v":-4.12},{"id":15,"k":2,"i":23.12,"v":-3.53},
{"id":16,"k":0,"i":248.57,"v":5.88},{"id":16,"k":1,"i":247.91,"v":5.1},{"id":16,"k":2,"i":247.03,"v":4.31}
],
"headYm":[{"i":23.12,"v":-3.53,"a":203},{"i":247.03,"v":4.31,"a":135}],
"labC":[{"i":78.16,"p":3902.16,"t":"盘背J"},{"i":100.4,"p":3901.21,"t":"类中枢1卖"},{"i":193.2,"p":3838.74,"t":"3卖"},{"i":218.85,"p":3885.59,"t":"类中枢1卖"},{"i":233.0,"p":3893.39,"t":"盘背J"},{"i":252.3,"p":3891.89,"t":"5笔1卖"},{"i":265.3,"p":3886.79,"t":"2卖"},{"i":266.6,"p":3905.1,"t":"盘背J"},{"i":277.85,"p":3907.8,"t":"盘背J"},{"i":287.9,"p":3903.96,"t":"9笔1中枢"},{"i":299.7,"p":3907.2,"t":"类中枢1卖"}],
"labY":[{"i":116.25,"p":3872.97,"t":"类中枢1买"},{"i":179.2,"p":3814.05,"t":"5笔1买"},{"i":278.1,"p":3867.9,"t":"类中枢1买"},{"i":287.1,"p":3886.85,"t":"3买"}],
"labYm":[{"i":30.4,"v":-5.49,"t":"线底背"}],
"labCm":[{"i":254.1,"v":6.53,"t":"双顶背"}],
"boxR":[{"i":-1.32,"i2":31.04,"p":3908.65,"p2":3897.12},{"i":-1.32,"i2":6.16,"p":3835.68,"p2":3813.15}],
"boxT":[{"i":0.3,"p":3906.31,"t":"000001\u00a0\u00a05分K线图"},{"i":0.3,"p":3899.64,"t":"上证指数"}],
"vert":[{"i":2.64,"p":3832.97,"t":"疯\n狂\n的\n缠\n论"}],
"boxM":[{"i":-1.32,"i2":21.14,"v":14.1,"v2":10.59}],
"boxYel":[{"i":-1.32,"i2":123.5,"v":-10.0,"v2":-16.08}],
"macdT":[{"i":-0.44,"v":12.5,"t":"MACD(12,26,9)"}],
"adT":[{"i":0.44,"v":-13.14,"t":"缠论自动画线、买卖点自动推送："}],
"urlT":[{"i":73.76,"v":-13.14,"t":"www.crazychanlun.com"}]
},
"vconcat":[
{
"width":1340,"height":552,
"encoding":{"x":{"field":"i","type":"quantitative","scale":{"domain":[0,295],"nice":false,"zero":false},"axis":null}},
"layer":[
{"data":{"name":"k"},"mark":{"type":"rule","strokeWidth":1,"clip":true},
 "encoding":{"y":{"field":"l","type":"quantitative","scale":{"domain":[3811.35,3910.81],"nice":false,"zero":false},"axis":{"title":null,"values":[3820,3840,3860,3880,3900]}},
 "y2":{"field":"h"},
 "color":{"condition":{"test":"datum.c>=datum.o","value":"#ff0000"},"value":"#00ffff"}}},
{"data":{"name":"k"},"mark":{"type":"bar","size":3.2,"clip":true},
 "encoding":{"y":{"field":"o","type":"quantitative","scale":{"domain":[3811.35,3910.81],"nice":false,"zero":false},"axis":{"title":null,"values":[3820,3840,3860,3880,3900]}},"y2":{"field":"c"},
 "color":{"condition":{"test":"datum.c>=datum.o","value":"#ff0000"},"value":"#00ffff"}}},
{"data":{"name":"k"},"transform":[{"window":[{"op":"mean","field":"c","as":"ma"}],"frame":[-5,0],"sort":[{"field":"i"}]}],
 "mark":{"type":"line","stroke":"#c8c8c8","strokeWidth":1,"clip":true},
 "encoding":{"y":{"field":"ma","type":"quantitative","scale":{"domain":[3811.35,3910.81],"nice":false,"zero":false},"axis":{"title":null,"values":[3820,3840,3860,3880,3900]}}}},
{"data":{"name":"bi"},"mark":{"type":"line","stroke":"#3cd8d8","strokeWidth":1.6,"clip":true},
 "encoding":{"y":{"field":"p","type":"quantitative","scale":{"domain":[3811.35,3910.81],"nice":false,"zero":false},"axis":{"title":null,"values":[3820,3840,3860,3880,3900]}}}},
{"data":{"name":"seg"},"mark":{"type":"line","stroke":"#f2e41e","strokeWidth":2.6,"clip":true},
 "encoding":{"y":{"field":"p","type":"quantitative","scale":{"domain":[3811.35,3910.81],"nice":false,"zero":false},"axis":{"title":null,"values":[3820,3840,3860,3880,3900]}}}},
{"data":{"name":"zs"},"mark":{"type":"rect","fillOpacity":0,"stroke":"#3ad8e6","strokeWidth":2.5,"strokeDash":[7,4]},
 "encoding":{"x2":{"field":"i2"},"y":{"field":"p","type":"quantitative","scale":{"domain":[3811.35,3910.81],"nice":false,"zero":false},"axis":{"title":null,"values":[3820,3840,3860,3880,3900]}},"y2":{"field":"p2"}}},
{"data":{"name":"arrC"},"mark":{"type":"line","stroke":"#2fd4d4","strokeWidth":1.5,"interpolate":"cardinal"},
 "encoding":{"y":{"field":"p","type":"quantitative","scale":{"domain":[3811.35,3910.81],"nice":false,"zero":false},"axis":{"title":null,"values":[3820,3840,3860,3880,3900]}},"detail":{"field":"id"},"order":{"field":"k"}}},
{"data":{"name":"headC"},"mark":{"type":"point","shape":"M -1 -0.6 L 0 0 L -1 0.6","filled":false,"size":170,"stroke":"#2fd4d4","strokeWidth":1.5,"opacity":1},
 "encoding":{"y":{"field":"p","type":"quantitative","scale":{"domain":[3811.35,3910.81],"nice":false,"zero":false},"axis":{"title":null,"values":[3820,3840,3860,3880,3900]}},"angle":{"field":"a","type":"quantitative","scale":null}}},
{"data":{"name":"arrY"},"mark":{"type":"line","stroke":"#e2d23a","strokeWidth":1.5,"interpolate":"cardinal"},
 "encoding":{"y":{"field":"p","type":"quantitative","scale":{"domain":[3811.35,3910.81],"nice":false,"zero":false},"axis":{"title":null,"values":[3820,3840,3860,3880,3900]}},"detail":{"field":"id"},"order":{"field":"k"}}},
{"data":{"name":"headY"},"mark":{"type":"point","shape":"M -1 -0.6 L 0 0 L -1 0.6","filled":false,"size":170,"stroke":"#e2d23a","strokeWidth":1.5,"opacity":1},
 "encoding":{"y":{"field":"p","type":"quantitative","scale":{"domain":[3811.35,3910.81],"nice":false,"zero":false},"axis":{"title":null,"values":[3820,3840,3860,3880,3900]}},"angle":{"field":"a","type":"quantitative","scale":null}}},
{"data":{"name":"labC"},"mark":{"type":"text","font":"Noto Sans CJK SC","fontSize":17,"color":"#2ed6d6","align":"center","baseline":"middle"},
 "encoding":{"y":{"field":"p","type":"quantitative","scale":{"domain":[3811.35,3910.81],"nice":false,"zero":false},"axis":{"title":null,"values":[3820,3840,3860,3880,3900]}},"text":{"field":"t"}}},
{"data":{"name":"labY"},"mark":{"type":"text","font":"Noto Sans CJK SC","fontSize":17,"color":"#d2c24c","align":"center","baseline":"middle"},
 "encoding":{"y":{"field":"p","type":"quantitative","scale":{"domain":[3811.35,3910.81],"nice":false,"zero":false},"axis":{"title":null,"values":[3820,3840,3860,3880,3900]}},"text":{"field":"t"}}},
{"data":{"name":"boxR"},"mark":{"type":"rect","fill":"#ff0000","stroke":"#000000","strokeWidth":1},
 "encoding":{"x2":{"field":"i2"},"y":{"field":"p","type":"quantitative","scale":{"domain":[3811.35,3910.81],"nice":false,"zero":false},"axis":{"title":null,"values":[3820,3840,3860,3880,3900]}},"y2":{"field":"p2"}}},
{"data":{"name":"boxT"},"mark":{"type":"text","font":"Noto Sans CJK SC","fontSize":16.5,"color":"#000000","align":"left","baseline":"middle"},
 "encoding":{"y":{"field":"p","type":"quantitative","scale":{"domain":[3811.35,3910.81],"nice":false,"zero":false},"axis":{"title":null,"values":[3820,3840,3860,3880,3900]}},"text":{"field":"t"}}},
{"data":{"name":"vert"},"mark":{"type":"text","font":"Noto Sans CJK SC","fontSize":18,"lineBreak":"\n","lineHeight":23,"color":"#000000","align":"center","baseline":"middle"},
 "encoding":{"y":{"field":"p","type":"quantitative","scale":{"domain":[3811.35,3910.81],"nice":false,"zero":false},"axis":{"title":null,"values":[3820,3840,3860,3880,3900]}},"text":{"field":"t"}}}
]
},
{
"width":1340,"height":155,
"encoding":{"x":{"field":"i","type":"quantitative","scale":{"domain":[0,295],"nice":false,"zero":false},
 "axis":{"title":null,"values":[4,22,40,58,76,94,112,130,148,166,184,202,220,238,256,274,292],
 "labelExpr":"['2025-12-11 13:25','2025-12-11 14:55','2025-12-12 10:55','2025-12-12 13:55','2025-12-15 09:55','2025-12-15 11:25','2025-12-15 14:25','2025-12-16 10:25','2025-12-16 13:25','2025-12-16 14:55','2025-12-17 10:55','2025-12-17 13:55','2025-12-18 09:55','2025-12-18 11:25','2025-12-18 14:25','2025-12-19 10:25','2025-12-19 13:25'][round((datum.value-4)/18)]",
 "labelAngle":-20,"labelAlign":"center","labelBaseline":"middle","labelPadding":30,"tickSize":5,"labelFont":"DejaVu Sans Mono","labelFontSize":11.5,"labelOverlap":false,"labelBound":false,"labelFlush":false,"grid":false}}},
"layer":[
{"data":{"name":"k"},"mark":{"type":"bar","size":2,"clip":true},
 "encoding":{"y":{"field":"m","type":"quantitative","scale":{"domain":[-16.08,14.31],"nice":false,"zero":false},"axis":{"title":null,"values":[-10,0,10]}},
 "y2":{"datum":0},
 "color":{"condition":{"test":"datum.m>=0","value":"#ff0000"},"value":"#00ffff"}}},
{"data":{"name":"k"},"mark":{"type":"line","stroke":"#d4d4d4","strokeWidth":1,"clip":true},
 "encoding":{"y":{"field":"f","type":"quantitative","scale":{"domain":[-16.08,14.31],"nice":false,"zero":false},"axis":{"title":null,"values":[-10,0,10]}}}},
{"data":{"name":"k"},"mark":{"type":"line","stroke":"#cfc21c","strokeWidth":1,"clip":true},
 "encoding":{"y":{"field":"e","type":"quantitative","scale":{"domain":[-16.08,14.31],"nice":false,"zero":false},"axis":{"title":null,"values":[-10,0,10]}}}},
{"data":{"name":"arrYm"},"mark":{"type":"line","stroke":"#e2d23a","strokeWidth":1.5,"interpolate":"cardinal"},
 "encoding":{"y":{"field":"v","type":"quantitative","scale":{"domain":[-16.08,14.31],"nice":false,"zero":false},"axis":{"title":null,"values":[-10,0,10]}},"detail":{"field":"id"},"order":{"field":"k"}}},
{"data":{"name":"headYm"},"mark":{"type":"point","shape":"M -1 -0.6 L 0 0 L -1 0.6","filled":false,"size":120,"stroke":"#e2d23a","strokeWidth":1.5,"opacity":1},
 "encoding":{"y":{"field":"v","type":"quantitative","scale":{"domain":[-16.08,14.31],"nice":false,"zero":false},"axis":{"title":null,"values":[-10,0,10]}},"angle":{"field":"a","type":"quantitative","scale":null}}},
{"data":{"name":"labYm"},"mark":{"type":"text","font":"Noto Sans CJK SC","fontSize":17,"color":"#d2c24c","align":"center","baseline":"middle"},
 "encoding":{"y":{"field":"v","type":"quantitative","scale":{"domain":[-16.08,14.31],"nice":false,"zero":false},"axis":{"title":null,"values":[-10,0,10]}},"text":{"field":"t"}}},
{"data":{"name":"labCm"},"mark":{"type":"text","font":"Noto Sans CJK SC","fontSize":17,"color":"#2ed6d6","align":"center","baseline":"middle"},
 "encoding":{"y":{"field":"v","type":"quantitative","scale":{"domain":[-16.08,14.31],"nice":false,"zero":false},"axis":{"title":null,"values":[-10,0,10]}},"text":{"field":"t"}}},
{"data":{"name":"boxM"},"mark":{"type":"rect","fill":"#ff0000","stroke":"#000000","strokeWidth":1},
 "encoding":{"x2":{"field":"i2"},"y":{"field":"v","type":"quantitative","scale":{"domain":[-16.08,14.31],"nice":false,"zero":false},"axis":{"title":null,"values":[-10,0,10]}},"y2":{"field":"v2"}}},
{"data":{"name":"boxYel"},"mark":{"type":"rect","fill":"#ffff00","stroke":"#000000","strokeWidth":1},
 "encoding":{"x2":{"field":"i2"},"y":{"field":"v","type":"quantitative","scale":{"domain":[-16.08,14.31],"nice":false,"zero":false},"axis":{"title":null,"values":[-10,0,10]}},"y2":{"field":"v2"}}},
{"data":{"name":"macdT"},"mark":{"type":"text","font":"DejaVu Sans Mono","fontSize":11.5,"color":"#000000","align":"left","baseline":"middle"},
 "encoding":{"y":{"field":"v","type":"quantitative","scale":{"domain":[-16.08,14.31],"nice":false,"zero":false},"axis":{"title":null,"values":[-10,0,10]}},"text":{"field":"t"}}},
{"data":{"name":"adT"},"mark":{"type":"text","font":"Noto Sans CJK SC","fontSize":22,"color":"#000000","align":"left","baseline":"middle"},
 "encoding":{"y":{"field":"v","type":"quantitative","scale":{"domain":[-16.08,14.31],"nice":false,"zero":false},"axis":{"title":null,"values":[-10,0,10]}},"text":{"field":"t"}}},
{"data":{"name":"urlT"},"mark":{"type":"text","font":"DejaVu Sans Mono","fontSize":18.4,"color":"#000000","align":"left","baseline":"middle"},
 "encoding":{"y":{"field":"v","type":"quantitative","scale":{"domain":[-16.08,14.31],"nice":false,"zero":false},"axis":{"title":null,"values":[-10,0,10]}},"text":{"field":"t"}}}
]
}
]
}
